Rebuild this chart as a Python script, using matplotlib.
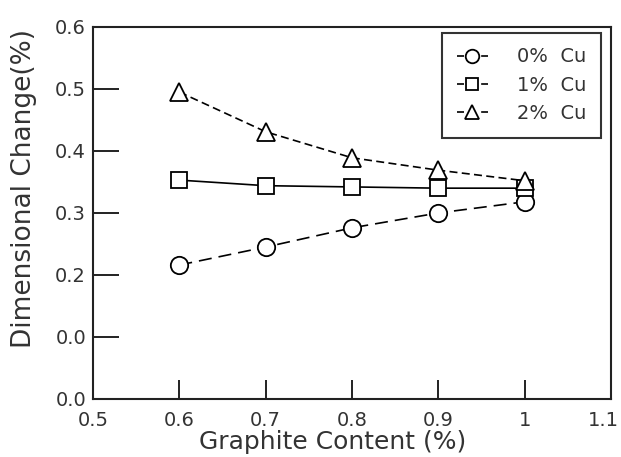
import numpy as np
import matplotlib
matplotlib.use("Agg")
import matplotlib.pyplot as plt
import matplotlib.transforms as mtransforms
from matplotlib.lines import Line2D

plt.rcParams['font.family'] = ['DejaVu Sans']

# graphite content (%)
graphite = [0.6, 0.7, 0.8, 0.9, 1.0]
# dimensional change (%) for each copper level
cu0 = [0.216, 0.245, 0.276, 0.300, 0.318]
cu1 = [0.353, 0.344, 0.342, 0.340, 0.340]
cu2 = [0.495, 0.431, 0.389, 0.369, 0.352]

xticks = [0.5, 0.6, 0.7, 0.8, 0.9, 1.0, 1.1]
xlabels = ['0.5', '0.6', '0.7', '0.8', '0.9', '1', '1.1']
yticks = [0.0, 0.1, 0.2, 0.3, 0.4, 0.5, 0.6]
ylabels = ['0.0', '0.0', '0.2', '0.3', '0.4', '0.5', '0.6']

fig = plt.figure(figsize=(6.21, 4.57), dpi=100)
ax = fig.add_axes([0.1498, 0.127, 0.834, 0.814])

ms = 12.5
mk = dict(markerfacecolor='white', markeredgecolor='black', markeredgewidth=1.3, color='black')
ax.plot(graphite, cu0, linestyle=(0, (7.8, 4.2)), linewidth=1.2, marker='o', markersize=ms, **mk)
ax.plot(graphite, cu1, linestyle='-', linewidth=1.2, marker='s', markersize=ms - 1, **mk)
ax.plot(graphite, cu2, linestyle=(0, (4.8, 2.6)), linewidth=1.2, marker='^', markersize=ms, **mk)

ax.set_xlim(0.5, 1.1)
ax.set_ylim(0.0, 0.6)
ax.set_xticks(xticks)
ax.set_xticklabels(xlabels)
ax.set_yticks(yticks)
ax.set_yticklabels(ylabels)

ax.tick_params(axis='both', direction='in', labelsize=14, width=1.4, color='#222222',
               labelcolor='#333333')
ax.tick_params(axis='x', length=13.5, pad=9)
ax.tick_params(axis='y', length=18.5, pad=5)
for s in ax.spines.values():
    s.set_linewidth(1.5)
    s.set_color('#222222')

last = ax.get_xticklabels()[-1]
last.set_ha('right')
last.set_transform(last.get_transform() + mtransforms.ScaledTranslation(8 / 100, 0, fig.dpi_scale_trans))

ax.set_xlabel('Graphite Content (%)', fontsize=18, color='#333333')
ax.set_ylabel('Dimensional Change(%)', fontsize=19, color='#333333')
ax.xaxis.set_label_coords(0.463, -0.083)
ax.yaxis.set_label_coords(-0.108, 0.567)

handles = []
for m, msz in [('o', ms), ('s', ms - 1), ('^', ms)]:
    handles.append(Line2D([], [], linestyle=(0, (4.2, 10.3)), linewidth=1.2, marker=m,
                          markersize=msz, **mk))
leg = ax.legend(handles, ['0%  Cu', '1%  Cu', '2%  Cu'], loc='upper right',
                bbox_to_anchor=(0.981, 0.984), borderaxespad=0, fancybox=False,
                edgecolor='black', fontsize=14, handlelength=1.6, labelspacing=0.48,
                borderpad=0.75, handletextpad=1.5, markerscale=0.78)
leg.get_frame().set_linewidth(1.5)
for t in leg.get_texts():
    t.set_color('#333333')

fig.savefig('out.png', dpi=100)
